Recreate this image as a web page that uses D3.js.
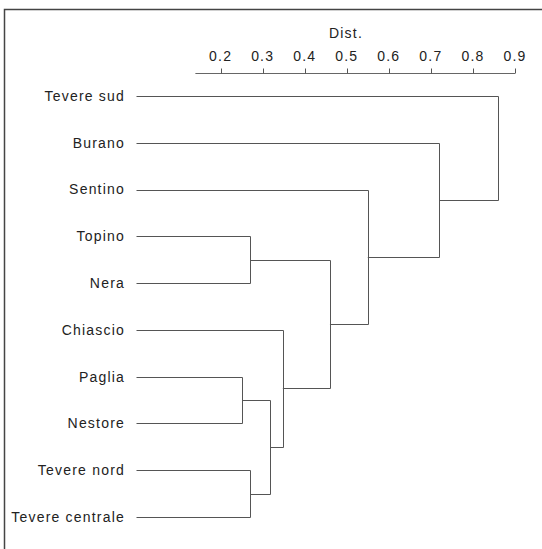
<!DOCTYPE html>
<html>
<head>
<meta charset="utf-8">
<script src="https://cdn.jsdelivr.net/npm/d3@7"></script>
<style>
  body { margin: 0; background: #fff; }
  svg { display: block; }
  text { font-family: "Liberation Sans", Arial, sans-serif; font-size: 14px; fill: #222; letter-spacing: 1.2px; }
</style>
</head>
<body>
<svg id="area" width="542" height="549"></svg>
<script>
// leaves, top to bottom
const leaves = ['Tevere sud', 'Burano', 'Sentino', 'Topino', 'Nera', 'Chiascio',
  'Paglia', 'Nestore', 'Tevere nord', 'Tevere centrale'];

// merge steps: a leaf name, or the index (number) of an earlier merge
const mergePairs = [
  ['Paglia', 'Nestore'],
  ['Topino', 'Nera'],
  ['Tevere nord', 'Tevere centrale'],
  [0, 2],
  ['Chiascio', 3],
  [1, 4],
  ['Sentino', 5],
  ['Burano', 6],
  ['Tevere sud', 7],
];
const mergeHeights = [0.251, 0.27, 0.27, 0.318, 0.348, 0.46, 0.55, 0.72, 0.86];

const axisTicks = [0.2, 0.3, 0.4, 0.5, 0.6, 0.7, 0.8, 0.9];

const svg = d3.select('#area');

const x = d3.scaleLinear().domain([0, 0.9]).range([136.5, 515]);
const y = d3.scalePoint().domain(leaves).range([96, 517]);

// frame (scan only shows top and left edges)
svg.append('path')
  .attr('d', 'M4.5,549V9.5H542')
  .attr('fill', 'none')
  .attr('stroke', '#444')
  .attr('stroke-width', 1.5);

// axis
const axisY = 73.5;
const axis = svg.append('g').attr('transform', `translate(0,${axisY})`);
axis.append('line')
  .attr('x1', x(0.14)).attr('x2', x(0.9))
  .attr('stroke', '#666');
axis.selectAll('line.tick')
  .data(axisTicks)
  .join('line')
  .attr('class', 'tick')
  .attr('x1', (d) => Math.round(x(d)) + 0.5)
  .attr('x2', (d) => Math.round(x(d)) + 0.5)
  .attr('y1', 0)
  .attr('y2', -5)
  .attr('stroke', '#555');
axis.selectAll('text')
  .data(axisTicks)
  .join('text')
  .attr('x', (d) => x(d))
  .attr('y', -13)
  .attr('text-anchor', 'middle')
  .text((d) => d3.format('.1f')(d));

svg.append('text')
  .attr('x', 346)
  .attr('y', 38)
  .attr('text-anchor', 'middle')
  .text('Dist.');

// leaf labels
svg.append('g')
  .selectAll('text')
  .data(leaves)
  .join('text')
  .attr('x', 125)
  .attr('y', (d) => y(d))
  .attr('dy', '0.35em')
  .attr('text-anchor', 'end')
  .text((d) => d);

// dendrogram
const nodes = [];
const pos = (c) => (typeof c === 'number' ? nodes[c] : { x: x(0), y: y(c) });
mergePairs.forEach(([a, b], i) => {
  const pa = pos(a);
  const pb = pos(b);
  nodes.push({ x: x(mergeHeights[i]), y: (pa.y + pb.y) / 2, a: pa, b: pb });
});

svg.append('g')
  .selectAll('path')
  .data(nodes)
  .join('path')
  .attr('fill', 'none')
  .attr('stroke', '#555')
  .attr('stroke-width', 1)
  .attr('d', (n) => {
    const hx = Math.round(n.x) + 0.5;
    const ay = Math.round(n.a.y) + 0.5;
    const by = Math.round(n.b.y) + 0.5;
    return `M${n.a.x},${ay}H${hx}V${by}H${n.b.x}`;
  });
</script>
</body>
</html>
